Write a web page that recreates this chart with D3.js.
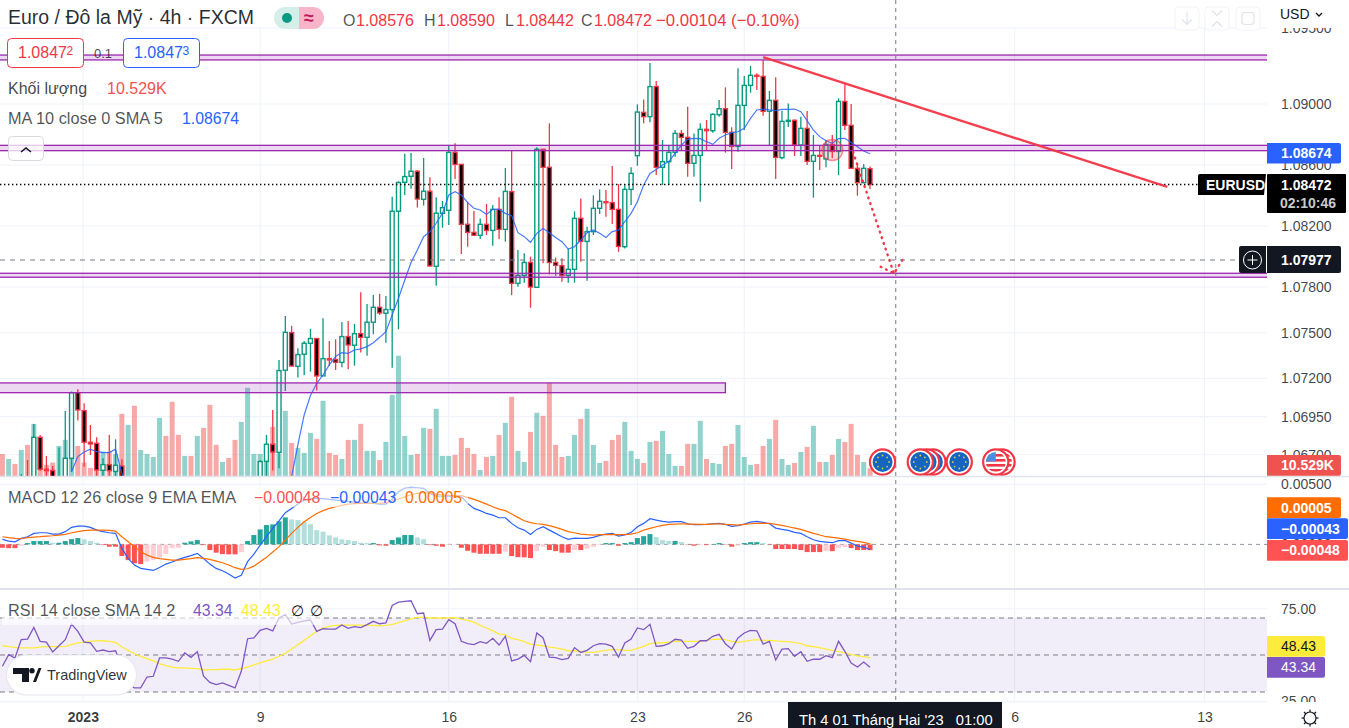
<!DOCTYPE html>
<html><head><meta charset="utf-8">
<script src="https://cdn.jsdelivr.net/npm/d3@7/dist/d3.min.js"></script>
<style>html,body{margin:0;padding:0;background:#fff;overflow:hidden}svg{display:block}text{font-family:"Liberation Sans",Arial,sans-serif}</style>
</head><body>
<svg id="c" width="1349" height="728"></svg>
<script>
// ---- candles (null = outside the visible pane) ----
const candleOpen=[null,null,null,1.06450,1.06500,1.06450,1.06814,1.06605,1.06596,1.06450,1.06500,1.06677,1.07107,1.06989,1.06782,1.06775,1.06598,1.06635,1.06591,1.06626,
null,null,null,null,null,null,null,null,null,null,null,null,null,null,null,null,null,null,null,null,null,
1.06450,1.06657,1.06769,1.06716,1.07254,1.07501,1.07280,1.07359,1.07431,1.07462,1.07217,1.07330,1.07324,1.07306,1.07475,1.07418,1.07494,1.07470,1.07569,1.07667,1.07628,1.07652,1.08297,1.08487,1.08526,1.08559,1.08375,1.08428,1.07936,
1.08283,1.08303,1.08683,1.08604,1.08211,1.08158,1.08139,1.08211,1.08171,1.08309,1.08178,1.08425,1.07824,1.07876,1.07961,1.07798,1.08703,1.08585,1.07961,1.07940,
1.07876,1.07916,1.08250,1.08099,1.08163,1.08316,1.08359,1.08353,1.08309,1.08064,1.08440,1.08661,1.08945,1.08917,1.09114,1.08585,1.08622,1.08683,1.08807,1.08781,
1.08611,1.08663,1.08834,1.08825,1.08930,1.08969,1.08814,1.08722,1.08991,1.09122,1.09188,1.09181,1.08952,1.09024,1.08648,1.08886,1.08893,1.08731,1.08840,1.08624,
1.08663,1.08639,1.08735,1.08689,1.09017,1.08860,1.08578,1.08484,1.08576];
const candleHigh=[null,null,null,1.06574,1.06666,1.06902,1.06830,1.06692,1.06626,1.06747,1.06987,1.07114,1.07129,1.07037,1.06895,1.06814,1.06677,1.06830,1.06801,1.06670,
null,null,null,null,null,null,null,null,null,null,null,null,null,null,null,null,null,null,null,null,null,
1.06666,1.06830,1.06994,1.07322,1.07610,1.07545,1.07398,1.07446,1.07525,1.07464,1.07595,1.07446,1.07457,1.07571,1.07577,1.07558,1.07765,1.07689,1.07748,1.07755,1.07741,1.08391,1.08493,1.08673,1.08679,1.08568,1.08646,1.08520,1.08388,
1.08364,1.08724,1.08742,1.08604,1.08359,1.08298,1.08250,1.08344,1.08337,1.08388,1.08580,1.08694,1.08042,1.08021,1.07999,1.08716,1.08703,1.08873,1.07994,1.07988,
1.08053,1.08296,1.08381,1.08195,1.08401,1.08440,1.08436,1.08593,1.08475,1.08475,1.08585,1.08998,1.09030,1.09269,1.09151,1.08764,1.08729,1.08829,1.08829,1.08982,
1.08807,1.08873,1.08895,1.08939,1.09026,1.09109,1.08847,1.09234,1.09183,1.09249,1.09201,1.09288,1.09085,1.09175,1.08956,1.09004,1.08899,1.08917,1.08954,1.08797,
1.08727,1.08764,1.08797,1.09037,1.09131,1.09000,1.08611,1.08606,1.08590];
const candleLow=[null,null,null,1.06300,1.06300,1.06300,1.06594,1.06561,1.06450,1.06400,1.06450,1.06589,1.06924,1.06622,1.06699,1.06557,1.06540,1.06540,1.06540,1.06450,
null,null,null,null,null,null,null,null,null,null,null,null,null,null,null,null,null,null,null,null,null,
1.06400,1.06557,1.06596,1.06611,1.07118,1.07278,1.07206,1.07221,1.07245,1.07121,1.07217,1.07282,1.07256,1.07274,1.07260,1.07284,1.07370,1.07350,1.07490,1.07617,1.07435,1.07271,1.07523,1.08404,1.08445,1.08321,1.08334,1.07934,1.07809,
1.08189,1.08206,1.08508,1.08016,1.08064,1.08139,1.08115,1.08141,1.08071,1.08115,1.08097,1.07747,1.07802,1.07828,1.07664,1.07798,1.07955,1.07883,1.07874,1.07835,
1.07828,1.07828,1.07966,1.07841,1.08141,1.08279,1.08261,1.08213,1.08031,1.08053,1.08337,1.08595,1.08873,1.08880,1.08534,1.08469,1.08469,1.08654,1.08698,1.08523,
1.08523,1.08359,1.08698,1.08812,1.08917,1.08681,1.08574,1.08687,1.08829,1.09074,1.09092,1.08923,1.08731,1.08508,1.08637,1.08849,1.08659,1.08659,1.08600,1.08386,
1.08567,1.08585,1.08644,1.08534,1.08829,1.08578,1.08399,1.08480,1.08442];
const candleClose=[null,null,null,1.06500,1.06450,1.06814,1.06605,1.06596,1.06500,1.06530,1.06677,1.07107,1.06994,1.06782,1.06771,1.06600,1.06635,1.06596,1.06631,1.06500,
null,null,null,null,null,null,null,null,null,null,null,null,null,null,null,null,null,null,null,null,null,
1.06655,1.06769,1.06718,1.07252,1.07503,1.07282,1.07357,1.07431,1.07462,1.07217,1.07330,1.07322,1.07306,1.07475,1.07420,1.07494,1.07470,1.07569,1.07667,1.07630,1.07652,1.08297,1.08485,1.08524,1.08559,1.08377,1.08428,1.07938,1.08284,
1.08320,1.08683,1.08604,1.08211,1.08158,1.08139,1.08211,1.08171,1.08309,1.08178,1.08427,1.07824,1.07876,1.07961,1.07800,1.08703,1.08585,1.07961,1.07942,1.07876,
1.07916,1.08250,1.08099,1.08163,1.08316,1.08362,1.08353,1.08309,1.08066,1.08440,1.08545,1.08947,1.08917,1.09114,1.08585,1.08622,1.08683,1.08807,1.08781,1.08611,
1.08663,1.08834,1.08825,1.08932,1.08969,1.08814,1.08722,1.08991,1.09122,1.09188,1.09181,1.08952,1.09024,1.08650,1.08886,1.08893,1.08731,1.08840,1.08624,1.08663,
1.08657,1.08735,1.08689,1.09017,1.08860,1.08578,1.08484,1.08578,1.08472];
// ---- moving average (null = outside the visible pane) ----
const maValues=[null,null,null,null,null,null,null,null,null,null,null,1.06589,1.06688,1.06718,1.06736,1.06720,1.06714,1.06714,1.06736,1.06578,1.06480,
null,null,null,null,null,null,null,null,null,null,null,null,null,null,null,null,null,null,null,null,null,null,null,null,1.06480,
1.06557,1.06764,1.06961,1.07088,1.07169,1.07223,1.07289,1.07344,1.07370,1.07365,1.07387,1.07394,1.07409,1.07435,1.07470,1.07507,1.07617,1.07726,1.07846,1.07960,1.08043,1.08130,1.08163,1.08218,
1.08283,1.08403,1.08425,1.08403,1.08353,1.08316,1.08305,1.08276,1.08309,1.08309,1.08283,1.08268,1.08156,1.08130,1.08093,1.08152,1.08184,1.08156,1.08125,1.08097,
1.08049,1.08064,1.08108,1.08156,1.08174,1.08152,1.08125,1.08163,1.08174,1.08228,1.08283,1.08359,1.08469,1.08545,1.08571,1.08600,1.08622,1.08676,1.08731,1.08768,
1.08775,1.08773,1.08753,1.08735,1.08775,1.08797,1.08812,1.08818,1.08840,1.08906,1.08961,1.08967,1.08961,1.08956,1.08965,1.08965,1.08967,1.08950,1.08891,1.08829,
1.08786,1.08759,1.08742,1.08773,1.08775,1.08748,1.08720,1.08692,1.08674];
// ---- volume in thousands, with candle direction for each bar ----
const volumeK=[30.2,23.3,16.5,35.6,42.5,71.3,33.4,15.1,18.3,41.1,49.4,51.6,41.1,18.3,11,37.9,33.4,33.4,30.2,85,
69.9,96,35.6,30.2,26,79.5,54.8,101.5,56.2,27.4,27.4,54.8,65.8,97.3,42.5,19.2,24.7,49.4,74,120.6,
30.2,30.2,27.4,67.2,31,89.1,45.2,38.4,31.5,59,50.7,102.8,31.5,28.8,23.3,49.4,49.4,71.3,34.3,34.3,
21.9,46.6,111,164.5,54.8,28.8,30.2,65.8,64.4,91.9,27.4,27.4,28.8,52.1,38.4,30.2,8.2,26,27.4,56.2,
72.7,108.3,34.3,19.2,60.3,86.4,82.3,127,42.5,26,27.4,56.2,78.1,91.9,42.5,17.8,20.6,49.4,56.2,74,
34.3,23.3,17.8,46.6,48,61.7,30.2,13.7,13.7,43.9,43.9,75.4,23.3,17.8,16.5,41.1,43.9,69.9,26,15.1,
16.5,41.1,50.7,76.8,23.3,15.1,17.8,32.9,39.8,68.6,19.2,19.2,28.8,50.7,46.6,71.3,28.8,19.2,10.529];
const volumeDir="rgrgrgrrrgggrrrrgrgrgrggggrrrgrgrrrgrrgggggrggrgggrgrrgrgrggrgggggrgrgggrrrrgrgrgrggrgrrrrggrgggrrrgggrgrgggrrggrggrrgggrrgrggrgrgrgrgrrrgr";
// ---- MACD ----
const macdHist=[-28,-31,-31,-11,11,28,28,28,14,14,28,44,53,42,28,14,-6,-19,-19,-97,
-131,-158,-164,-144,-131,-111,-81,-31,-28,14,25,36,-6,-47,-69,-81,-83,-83,-64,28,
78,125,161,167,192,225,208,203,189,169,119,106,75,58,42,36,28,14,11,11,
-8,-11,36,58,78,78,58,44,-6,-11,-19,-6,-3,-28,-53,-69,-78,-78,-78,-78,
-61,-97,-106,-108,-114,-56,-19,-47,-56,-69,-69,-47,-47,-36,-19,-6,11,11,-11,11,
19,53,69,86,61,36,28,28,19,-3,-11,-6,-6,3,11,-3,-19,-11,11,19,
19,11,-3,-39,-39,-39,-39,-47,-64,-64,-64,-56,-56,-31,-22,-31,-47,-47,-48];
const macdLine=[42,28,22,50,64,92,97,97,86,86,106,142,153,153,142,119,106,97,92,-33,
-117,-172,-200,-208,-217,-192,-164,-147,-125,-108,-94,-75,-117,-164,-200,-219,-247,-281,-258,-144,
-81,-6,64,133,197,264,300,336,369,381,381,381,375,369,364,358,353,347,344,342,
336,336,375,439,469,475,472,467,425,403,403,403,403,397,342,300,281,258,244,222,
222,175,139,119,83,125,147,119,92,64,42,53,50,50,58,75,86,92,69,78,
100,147,175,214,203,192,186,189,189,172,164,164,167,172,175,167,150,156,169,186,
192,183,172,136,125,117,100,92,64,39,25,19,14,31,33,11,-14,-22,-43];
const macdSignal=[64,56,50,47,56,61,64,69,72,78,83,97,106,114,119,119,119,117,111,64,
22,-19,-61,-89,-108,-119,-125,-131,-131,-125,-119,-111,-117,-125,-139,-153,-172,-194,-208,-203,
-181,-144,-108,-64,-19,36,92,142,189,225,258,281,300,314,325,336,339,342,342,342,
342,347,364,378,397,414,425,431,425,419,411,408,406,406,392,375,356,336,314,294,
281,253,225,197,181,172,167,156,142,125,106,97,86,81,78,81,81,83,81,81,
86,97,119,133,147,158,167,169,172,169,169,167,167,169,172,167,164,161,167,172,
175,175,175,167,158,147,136,125,108,92,78,64,58,53,44,33,25,17,5];
const macdUnit=0.00001; // the three MACD arrays are written in this unit
// ---- RSI ----
const rsiLine=[43.9,50.2,48.4,58.3,58.6,64.9,57.4,57.0,51.6,55.0,58.3,66.7,62.8,57.0,56.5,52.0,52.7,51.8,52.3,43.9,
34.0,32.2,32.2,38.1,38.5,48.4,48.4,47.8,46.6,51.1,48.7,51.8,38.5,35.2,34.0,34.9,33.6,32.2,41.2,58.8,
59.2,63.3,64.4,63.0,70.0,71.8,66.7,67.6,68.4,68.9,62.8,64.2,64.0,64.0,66.2,64.4,65.3,64.8,66.4,68.2,
66.9,67.3,76.8,78.6,79.0,79.3,72.3,72.7,57.9,63.7,64.0,69.1,66.9,57.4,56.1,55.6,57.2,56.3,59.0,55.4,
60.1,46.8,47.8,49.8,46.4,61.9,59.2,48.9,48.6,47.5,48.2,54.0,51.4,52.5,55.0,56.1,55.9,54.7,48.9,56.5,
58.6,64.6,63.7,66.6,54.7,55.0,56.1,58.5,58.1,53.6,54.7,57.7,57.7,60.1,61.2,56.1,53.2,59.2,61.9,63.3,
63.1,55.9,57.4,47.3,53.2,53.4,49.3,51.8,46.6,47.7,47.7,49.6,48.6,57.4,52.0,45.7,43.5,46.2,43.34];
const rsiSma=[55.0,54.5,54.1,53.8,53.8,53.8,54.3,54.5,54.5,54.5,54.7,55.6,56.5,57.0,57.4,57.6,57.7,57.4,56.8,54.3,
52.5,50.7,49.3,48.0,46.8,45.3,44.2,43.5,43.0,43.0,42.8,42.6,41.9,42.1,42.1,42.3,42.3,41.9,42.8,43.5,
44.6,45.7,46.8,47.8,49.3,50.9,53.2,55.6,57.9,60.4,62.8,64.6,65.5,66.0,66.2,66.2,66.2,66.2,66.0,66.0,
65.8,66.0,66.6,67.5,68.5,69.6,70.3,70.5,70.0,70.0,70.0,70.0,
70.2,69.4,68.7,67.8,66.0,64.6,63.0,61.3,61.0,59.0,58.3,57.2,55.9,55.4,54.9,54.3,53.8,53.2,52.3,52.3,
52.0,51.4,51.4,52.0,52.5,52.9,52.9,52.5,52.5,53.6,54.7,56.1,56.5,56.5,57.0,57.4,57.4,57.4,57.4,57.4,
57.9,58.5,58.6,58.3,57.4,56.8,57.4,57.9,58.3,57.9,57.9,57.6,57.4,57.2,56.7,56.1,55.0,54.5,54.0,53.2,
52.5,51.8,51.3,50.2,49.5,49.1,48.43];
// ---- axes ----
const priceTicks=[1.095,1.09,1.086,1.082,1.078,1.075,1.072,1.0695,1.067];
const macdTicks=[0.005,0];
const rsiTicks=[75,25];
const rsiBands=[70,50,30];
const timeTickBars=[12.8,41,71,101,118,161,191.2];
const timeTickLabels=["2023","9","16","23","26","6","13"];
// ---- drawings (price / bar-index coordinates) ----
const zones=[{from:0,to:215,hi:1.09321,lo:1.09289},{from:0,to:215,hi:1.08729,lo:1.08694},{from:0,to:215,hi:1.07890,lo:1.07864},{from:0,to:115,hi:1.07171,lo:1.07107}];
const trendLine=[[121,1.09308],[185.3,1.08456]];
const arrowLine=[[135.3,1.08685],[141.8,1.07889]];
const arrowHead=[[139.7,1.07933],[141.8,1.07889],[143.3,1.07986]];
const circleMark={bar:132,price:1.08698};
const crossBar=142.1, crossPrice=1.07977, lastPrice=1.08472;
const events=[[148,"eu"],[147,"eu"],[146,"eu"],[152.2,"eu"],[159,"us"],[158,"us"],[140,"eu"]];

const svg=d3.select("#c");
const W=1267;
const x=d3.scaleLinear().domain([0,138]).range([2.4,870]);
const yP=d3.scaleLinear().domain([1.09,1.07]).range([104,409]);
const yV=d3.scaleLinear().domain([0,10.529]).range([476,468.3]);
const yM=d3.scaleLinear().domain([0,0.005]).range([544.4,484.4]);
const yR=d3.scaleLinear().domain([50,70]).range([655,618]);
const GRID="#f0f3fa",GREEN="#089981",RED="#f23645",AXT="#131722";

// clip panes
const defs=svg.append("defs");
[["mainClip",28,448],["macdClip",477,112],["rsiClip",590,112]].forEach(([id,y,h])=>defs.append("clipPath").attr("id",id).append("rect").attr("x",0).attr("y",y).attr("width",W).attr("height",h));

// gridlines
const grid=svg.append("g").attr("stroke",GRID).attr("stroke-width",1.2);
timeTickBars.forEach(b=>grid.append("line").attr("x1",x(b)).attr("x2",x(b)).attr("y1",28).attr("y2",702));
priceTicks.forEach(p=>grid.append("line").attr("x1",0).attr("x2",W).attr("y1",yP(p)).attr("y2",yP(p)));
macdTicks.slice(0,1).forEach(p=>grid.append("line").attr("x1",0).attr("x2",W).attr("y1",yM(p)).attr("y2",yM(p)));
rsiTicks.forEach(p=>grid.append("line").attr("x1",0).attr("x2",W).attr("y1",yR(p)).attr("y2",yR(p)));

// main pane
const main=svg.append("g").attr("clip-path","url(#mainClip)");
main.selectAll("rect.v").data(volumeK).join("rect").attr("class","v")
 .attr("x",(d,i)=>x(i)-2.5).attr("width",5).attr("y",d=>yV(d)).attr("height",d=>yV(0)-yV(d))
 .attr("fill",(d,i)=>volumeDir[i]==="g"?"#26a69a":"#ef5350").attr("opacity",.5);
const bars=d3.range(candleOpen.length).filter(i=>candleOpen[i]!==null);
const isUp=i=>candleClose[i]>=candleOpen[i];
main.selectAll("line.w").data(bars).join("line").attr("class","w")
 .attr("x1",i=>x(i)).attr("x2",i=>x(i)).attr("y1",i=>yP(candleHigh[i])).attr("y2",i=>yP(candleLow[i]))
 .attr("stroke",i=>isUp(i)?GREEN:RED).attr("stroke-width",1.3);
main.selectAll("rect.b").data(bars).join("rect").attr("class","b")
 .attr("x",i=>x(i)-2).attr("width",4)
 .attr("y",i=>yP(Math.max(candleOpen[i],candleClose[i])))
 .attr("height",i=>Math.max(0.8,Math.abs(yP(candleOpen[i])-yP(candleClose[i]))))
 .attr("fill",i=>isUp(i)?"#fff":"#000").attr("stroke",i=>isUp(i)?GREEN:RED).attr("stroke-width",1.4);
const lineP=d3.line().defined(d=>d!==null).x((d,i)=>x(i)).y(d=>yP(d));
main.append("path").attr("d",lineP(maValues)).attr("fill","none").attr("stroke","#2962ff").attr("stroke-width",1.2).attr("opacity",.85);
// zones
zones.forEach(z=>main.append("rect").attr("x",x(z.from)-4).attr("width",x(z.to)-x(z.from)+4).attr("y",yP(z.hi)).attr("height",yP(z.lo)-yP(z.hi))
 .attr("fill","#9c27b0").attr("fill-opacity",.18).attr("stroke","#9c27b0").attr("stroke-width",1.3));
// last price
main.append("line").attr("x1",0).attr("x2",1198).attr("y1",yP(lastPrice)).attr("y2",yP(lastPrice)).attr("stroke","#000").attr("stroke-width",1.4).attr("stroke-dasharray","1.4 2.6");
// trend & arrow
const lp=d3.line().x(d=>x(d[0])).y(d=>yP(d[1]));
main.append("path").attr("d",lp(trendLine)).attr("stroke","#f23645").attr("stroke-width",2.4).attr("fill","none").attr("opacity",.95);
[arrowLine,arrowHead].forEach(a=>main.append("path").attr("d",lp(a)).attr("stroke","#f23645").attr("stroke-width",2.4).attr("fill","none").attr("stroke-linecap","round").attr("stroke-dasharray","0.8 5.2"));
main.append("circle").attr("cx",x(circleMark.bar)).attr("cy",yP(circleMark.price)).attr("r",10.5).attr("fill","#f23645").attr("fill-opacity",.2).attr("stroke","#f23645").attr("stroke-opacity",.55).attr("stroke-width",1.4);
// events
events.forEach(([b,f],k)=>{
 const g=svg.append("g").attr("transform",`translate(${x(b)},462)`);
 const id="ev"+k;
 defs.append("clipPath").attr("id",id).append("circle").attr("r",10);
 g.append("circle").attr("r",12.6).attr("fill","#fff").attr("stroke","#f23645").attr("stroke-width",2.2);
 if(f==="eu"){
  g.append("circle").attr("r",10).attr("fill","#1565c0");
  d3.range(8).forEach(a=>g.append("circle").attr("r",.9).attr("cx",6.5*Math.cos(a*Math.PI/4)).attr("cy",6.5*Math.sin(a*Math.PI/4)).attr("fill","#d9c94a"));
 } else {
  const c=g.append("g").attr("clip-path",`url(#${id})`);
  c.append("circle").attr("r",10).attr("fill","#fff");
  [-8,-3,2,7].forEach(y=>c.append("rect").attr("x",-11).attr("width",22).attr("y",y).attr("height",2.6).attr("fill","#f23645"));
  c.append("rect").attr("x",-11).attr("y",-11).attr("width",11).attr("height",10.5).attr("fill","#4a90e2");
 }
});

// MACD pane
const mac=svg.append("g").attr("clip-path","url(#macdClip)");
mac.append("line").attr("x1",0).attr("x2",W).attr("y1",yM(0)).attr("y2",yM(0)).attr("stroke","#9598a1").attr("stroke-dasharray","4 4");
mac.selectAll("rect.h").data(macdHist).join("rect").attr("class","h")
 .attr("x",(d,i)=>x(i)-2.5).attr("width",5)
 .attr("y",d=>yM(Math.max(0,d*macdUnit))).attr("height",d=>Math.abs(yM(d*macdUnit)-yM(0)))
 .attr("fill",(d,i)=>{const p=i?macdHist[i-1]:d; return d>=0?(d>=p?"#26a69a":"#b2dfdb"):(d<=p?"#ff5252":"#ffcdd2");});
const lineM=d3.line().x((d,i)=>x(i)).y(d=>yM(d*macdUnit));
mac.append("path").attr("d",lineM(macdLine)).attr("fill","none").attr("stroke","#2962ff").attr("stroke-width",1.2);
mac.append("path").attr("d",lineM(macdSignal)).attr("fill","none").attr("stroke","#ff6d00").attr("stroke-width",1.2);

// RSI pane
const rsi=svg.append("g").attr("clip-path","url(#rsiClip)");
rsi.append("rect").attr("x",0).attr("width",W).attr("y",yR(70)).attr("height",yR(30)-yR(70)).attr("fill","#7e57c2").attr("opacity",.1);
rsiBands.forEach(b=>rsi.append("line").attr("x1",0).attr("x2",W).attr("y1",yR(b)).attr("y2",yR(b)).attr("stroke","#787b86").attr("stroke-dasharray","5 4"));
const lineR=d3.line().x((d,i)=>x(i)).y(d=>yR(d));
rsi.append("path").attr("d",lineR(rsiSma)).attr("fill","none").attr("stroke","#ffeb3b").attr("stroke-width",1.3);
rsi.append("path").attr("d",lineR(rsiLine)).attr("fill","none").attr("stroke","#7e57c2").attr("stroke-width",1.3);

// axes
function axisRight(scale,ticks,fmt){
 const g=svg.append("g").attr("transform",`translate(${W},0)`).call(d3.axisRight(scale).tickValues(ticks).tickFormat(fmt).tickSize(0).tickPadding(14));
 g.select(".domain").remove();
 g.selectAll("text").attr("font-size",14).attr("fill",AXT).attr("fill-opacity",.82).style("font-family",'"Liberation Sans"');
}
axisRight(yP,priceTicks,d3.format(".5f"));
axisRight(yM,macdTicks,d3.format(".5f"));
axisRight(yR,rsiTicks,d3.format(".2f"));

// header cover & clip of top label, and time axis cover
svg.append("rect").attr("x",0).attr("y",0).attr("width",1349).attr("height",28).attr("fill","#fff");
svg.append("line").attr("x1",0).attr("x2",W).attr("y1",28).attr("y2",28).attr("stroke",GRID).attr("stroke-width",1.2);
svg.append("rect").attr("x",0).attr("y",702).attr("width",1349).attr("height",26).attr("fill","#fff");
svg.append("line").attr("x1",0).attr("x2",W).attr("y1",702).attr("y2",702).attr("stroke",GRID).attr("stroke-width",1.2);
// separators
[[476.6],[589]].forEach(([y],k)=>svg.append("line").attr("x1",0).attr("x2",1349).attr("y1",y).attr("y2",y).attr("stroke","#e0e3eb").attr("stroke-width",k?2:1.5));
// crosshair
svg.append("line").attr("x1",x(crossBar)).attr("x2",x(crossBar)).attr("y1",0).attr("y2",702).attr("stroke","#787b86").attr("stroke-dasharray","4 4").attr("stroke-width",1);
svg.append("line").attr("x1",0).attr("x2",W).attr("y1",yP(crossPrice)).attr("y2",yP(crossPrice)).attr("stroke","#787b86").attr("stroke-dasharray","5 5").attr("stroke-width",1);

// time axis
const tAxis=svg.append("g").attr("transform","translate(0,702)").call(d3.axisBottom(x).tickValues(timeTickBars).tickFormat((d,i)=>timeTickLabels[i]).tickSize(0).tickPadding(10));
tAxis.select(".domain").remove();
tAxis.selectAll("text").attr("font-size",14).attr("fill",AXT).attr("fill-opacity",.85).style("font-family",'"Liberation Sans"').attr("font-weight",(d,i)=>i===0?"bold":"normal");
svg.append("rect").attr("x",788).attr("y",702).attr("width",214).attr("height",26).attr("fill","#131722");
const tx=(s,px,py,size,fill,o={})=>{const t=svg.append("text").attr("x",px).attr("y",py).attr("font-size",size).attr("fill",fill).text(s);
 if(o.w)t.attr("font-weight",o.w); if(o.a)t.attr("text-anchor",o.a); if(o.op)t.attr("fill-opacity",o.op); return t;};
tx("Th 4 01 Tháng Hai '23   01:00",799,725,14.7,"#fff").style("white-space","pre");

// gear
const gear=svg.append("g").attr("transform","translate(1310,718)").attr("fill","none").attr("stroke","#131722").attr("stroke-width",1.2);
gear.append("circle").attr("r",6);
d3.range(8).forEach(a=>gear.append("line").attr("x1",6*Math.cos(a*Math.PI/4)).attr("y1",6*Math.sin(a*Math.PI/4)).attr("x2",8.5*Math.cos(a*Math.PI/4)).attr("y2",8.5*Math.sin(a*Math.PI/4)));

// price tags
function tag(px,py,w,h,fill,label,col,o={}){
 svg.append("path").attr("d",`M${px},${py}h${w-2}q2,0 2,2v${h-4}q0,2 -2,2h${-(w-2)}z`).attr("fill",fill);
 tx(label,px+14,py+h/2+5,14,col,{w:o.w});
}
tag(1267,143,74,20.6,"#2962ff",d3.format(".5f")(maValues[138]),"#fff",{w:"bold"});
svg.append("rect").attr("x",1267).attr("y",174).attr("width",79).attr("height",39).attr("fill","#000").attr("rx",1);
tx(d3.format(".5f")(lastPrice),1281,190,14,"#fff",{w:"bold"});
tx("02:10:46",1280,208,14,"#c9c9c9",{w:"bold"});
svg.append("path").attr("d","M1266,174h-66q-2,0 -2,2v17q0,2 -0,2h66z").attr("fill","#000");
tx("EURUSD",1206,190,14,"#fff",{w:"bold"});
tag(1267,246,74,27,"#131722",d3.format(".5f")(crossPrice),"#fff",{w:"bold"});
svg.append("path").attr("d","M1266,246h-25q-2,0 -2,2v23q0,2 2,2h25z").attr("fill","#131722");
const plus=svg.append("g").attr("transform","translate(1252.5,260)").attr("stroke","#fff").attr("fill","none");
plus.append("circle").attr("r",9);plus.append("path").attr("d","M-5,0H5M0,-5V5");
tag(1267,455,74,20.7,"#ef5350","10.529K","#fff",{w:"bold"});
tag(1267,497.3,74,20.7,"#ff6d00","0.00005","#fff",{w:"bold"});
tag(1267,518.3,81,20.7,"#2962ff","−0.00043","#fff",{w:"bold"});
tag(1267,540,81,20.7,"#ff5252","−0.00048","#fff",{w:"bold"});
tag(1267,636,58,20.7,"#ffeb3b","48.43","#131722");
tag(1267,657,58,20.7,"#7e57c2","43.34","#fff");

// legends
const GT="#131722";
tx("Euro / Đô la Mỹ · 4h · FXCM",8,24,19.5,GT,{op:.92});
svg.append("path").attr("d","M299,7h-14a11,11 0 0 0 0,22h14z").attr("fill","#d4efea");
svg.append("path").attr("d","M299,7h14a11,11 0 0 1 0,22h-14z").attr("fill","#f8b4c9");
svg.append("circle").attr("cx",287).attr("cy",18).attr("r",5).attr("fill",GREEN);
tx("≈",304,24,18,"#c2185b",{w:"bold"});
const rows=[["O",343,"1.08576",356],["H",424,"1.08590",437],["L",505,"1.08442",516],["C",581,"1.08472",594]];
rows.forEach(r=>{tx(r[0],r[1],25.5,16,"#131722",{op:.75});tx(r[2],r[3],25.5,16,RED);});
tx("−0.00104 (−0.10%)",656,25.5,16.8,RED);
// order boxes
svg.append("rect").attr("x",7.5).attr("y",38.5).attr("width",76).attr("height",29).attr("rx",4).attr("fill","#fff").attr("stroke",RED);
tx("1.0847",18,58,16,RED);tx("2",66.5,55,12,RED);
tx("0.1",94,58,13,"#131722",{op:.8});
svg.append("rect").attr("x",123.5).attr("y",38.5).attr("width",76).attr("height",29).attr("rx",4).attr("fill","#fff").attr("stroke","#2962ff");
tx("1.0847",134,58,16,"#2962ff");tx("3",182.5,55,12,"#2962ff");
tx("Khối lượng",8,93.5,16,GT,{op:.82});tx("10.529K",107,93.5,16,"#ef5350");
tx("MA 10 close 0 SMA 5",8,123.5,16.3,GT,{op:.75});tx("1.08674",182,123.5,15.8,"#2962ff");
svg.append("rect").attr("x",8.5).attr("y",136.5).attr("width",35).attr("height",24).attr("rx",4).attr("fill","#fff").attr("fill-opacity",.75).attr("stroke","#d9dae0");
svg.append("path").attr("d","M21,152l5,-4l5,4").attr("fill","none").attr("stroke","#131722").attr("stroke-width",1.6);
svg.append("rect").attr("x",0).attr("y",487).attr("width",468).attr("height",20).attr("fill","#fff").attr("opacity",.6);
tx("MACD 12 26 close 9 EMA EMA",8,502.5,16.3,GT,{op:.75});
tx("−0.00048",254,502.5,15.8,"#ff5252");tx("−0.00043",330,502.5,15.8,"#2962ff");tx("0.00005",405,502.5,15.8,"#ff6d00");
svg.append("rect").attr("x",2).attr("y",600).attr("width",320).attr("height",25).attr("fill","#fff").attr("opacity",.62);
tx("RSI 14 close SMA 14 2",8,615.5,16.3,GT,{op:.75});
tx("43.34",193,615.5,15.8,"#7e57c2");tx("48.43",241,615.5,15.8,"#ffeb3b");tx("∅",291,615.5,15,"#131722");tx("∅",310,615.5,15,"#131722");
// currency label
tx("USD",1280,19,14,"#131722");
svg.append("path").attr("d","M1316,13l3,3l3,-3").attr("fill","none").attr("stroke","#131722").attr("stroke-width",1.3);
// top-right faint buttons
[1175,1205,1236].forEach((bx,k)=>{
 svg.append("rect").attr("x",bx).attr("y",7).attr("width",24).attr("height",23).attr("rx",4).attr("fill","#fff").attr("stroke","#f2f3f6");
 const g=svg.append("g").attr("transform",`translate(${bx+12},18.5)`).attr("fill","none").attr("stroke","#e0e3eb").attr("stroke-width",1.2);
 if(k===0)g.append("path").attr("d","M0,-7V6M-5,1l5,5l5,-5");
 if(k===1)g.append("path").attr("d","M-5,-8l5,5l5,-5M-5,8l5,-5l5,5");
 if(k===2)g.append("rect").attr("x",-6).attr("y",-6).attr("width",12).attr("height",12).attr("rx",3);
});
// TradingView badge
svg.append("rect").attr("x",6.5).attr("y",655).attr("width",130).attr("height",40).attr("rx",20).attr("fill","#fff").attr("stroke","#e6e8ee").attr("stroke-width",1.2);
const logo=svg.append("g").attr("fill","#131722");
logo.append("path").attr("d","M13,668h16v14h-7v-8h-9z");
logo.append("circle").attr("cx",32).attr("cy",670.8).attr("r",2.7);
logo.append("path").attr("d","M33,682l5.5,-14h3l-5.5,14z");
tx("TradingView",47,680,14.5,"#131722",{op:.9});
</script>
</body></html>
